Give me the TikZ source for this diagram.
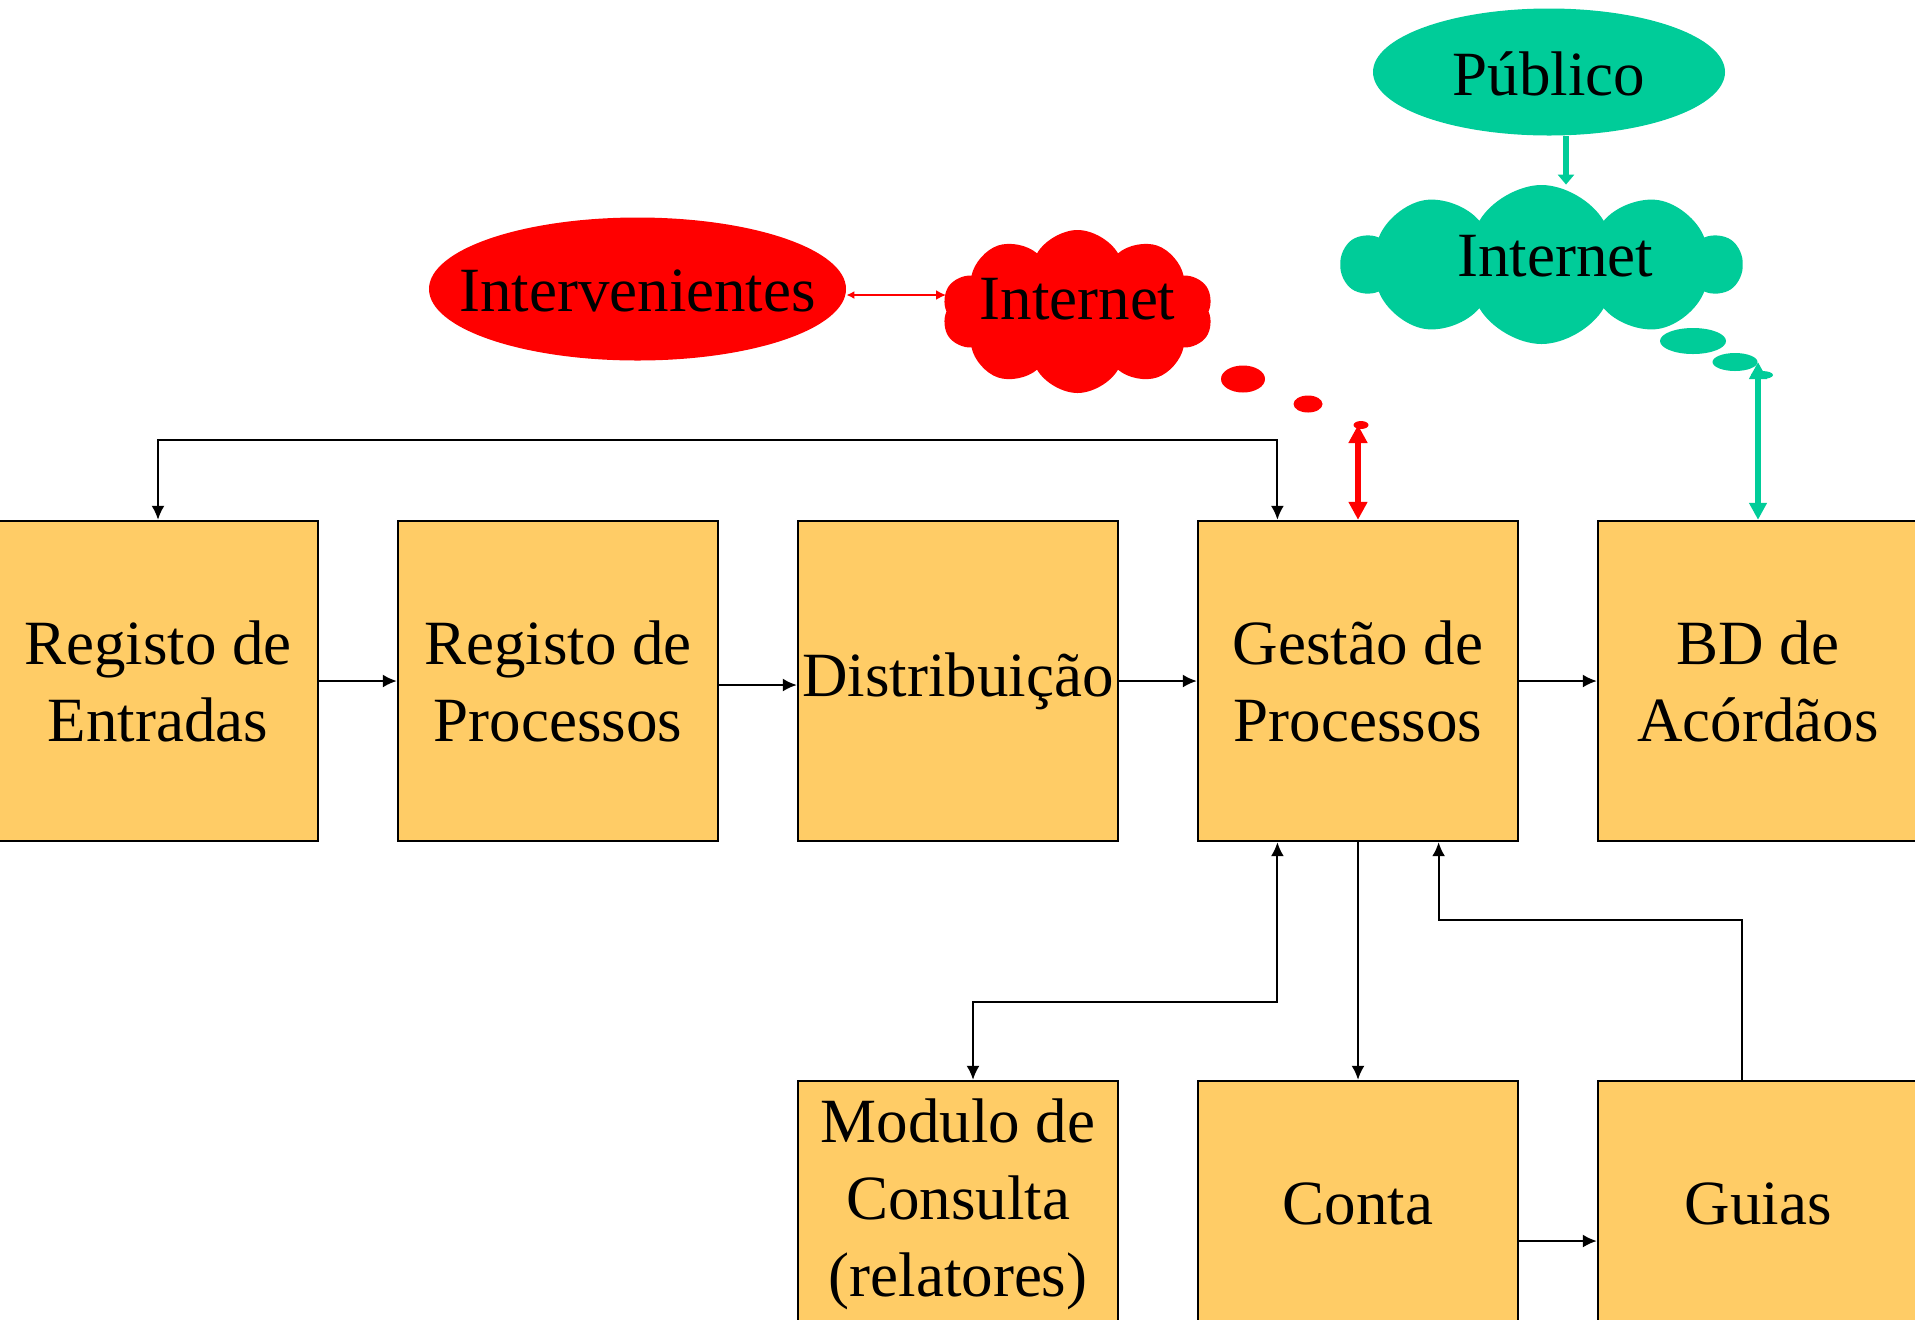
\documentclass[tikz,border=0pt]{standalone}
\usepackage{fontspec}
\setmainfont{Liberation Serif}
\usetikzlibrary{shapes.geometric,shapes.symbols,arrows.meta,calc}
\definecolor{boxfill}{RGB}{255,204,102}
\definecolor{tealc}{RGB}{0,204,153}
\begin{document}
\begin{tikzpicture}[x=0.5pt,y=-0.5pt,
  every node/.style={font=\fontsize{31.5}{38.5}\selectfont},
  procbox/.style={draw=black, line width=1.2pt, fill=boxfill, minimum width=160pt, minimum height=160pt, inner sep=0pt, align=center},
  lowbox/.style={procbox, minimum height=123pt},
  conn/.style={draw=black, line width=1pt, -{Latex[length=7pt,width=6.5pt]}},
  conntwo/.style={draw=black, line width=1pt, {Latex[length=7pt,width=6.5pt]}-{Latex[length=7pt,width=6.5pt]}},
  redarr/.style={draw=red, line width=3pt, {Triangle[length=9pt,width=9pt]}-{Triangle[length=9pt,width=9pt]}},
  tealarr/.style={draw=tealc, line width=3pt, {Triangle[length=8.5pt,width=8.5pt]}-{Triangle[length=8.5pt,width=8.5pt]}},
  dot/.style={ellipse, inner sep=0pt},
  cloudy/.style={cloud, cloud puffs=10, cloud puff arc=120, cloud ignores aspect, inner sep=0pt}
]
\useasboundingbox (0,0) rectangle (1915,1319);

% top row
\node[procbox] (b1) at (158,681) {Registo de\\Entradas};
\node[procbox] (b2) at (558,681) {Registo de\\Processos};
\node[procbox] (b3) at (958,681) {\raisebox{-3pt}{Distribuição}};
\node[procbox] (b4) at (1358,681) {Gestão de\\Processos};
\node[procbox] (b5) at (1758,681) {BD de\\Acórdãos};

% bottom row
\node[lowbox] (mod) at (958,1204) {Modulo de\\Consulta\\(relatores)};
\node[lowbox] (conta) at (1358,1204) {Conta};
\node[lowbox] (guias) at (1758,1204) {Guias};

% red side
\node[ellipse, fill=red, inner sep=0pt, minimum width=208.5pt, minimum height=71.5pt,
      label={[yshift=-1pt]center:Intervenientes}] (interv) at (637.5,289) {};
\node[cloudy, fill=red, minimum width=135.5pt, minimum height=81.5pt,
      label={[yshift=6pt]center:Internet}] (rcloud) at (1077.5,311.5) {};
\node[dot, fill=red, minimum width=22pt, minimum height=13.5pt] (rdot1) at (1243,379) {};
\node[dot, fill=red, minimum width=14.5pt, minimum height=8.5pt] (rdot2) at (1308,404) {};
\node[dot, fill=red, minimum width=7.5pt, minimum height=4pt] (rdot3) at (1361,425) {};

% teal side
\node[ellipse, fill=tealc, inner sep=0pt, minimum width=176pt, minimum height=63.5pt,
      label={[yshift=-1pt]center:Público}] (pub) at (1549,72) {};
\node[cloudy, fill=tealc, minimum width=199.5pt, minimum height=79.5pt,
      label={[xshift=6.75pt,yshift=4.25pt]center:Internet}] (tcloud) at (1541.5,264.5) {};
\node[dot, fill=tealc, minimum width=33pt, minimum height=13pt] (tdot1) at (1693,341) {};
\node[dot, fill=tealc, minimum width=22.5pt, minimum height=9pt] (tdot2) at (1735,362) {};
\node[dot, fill=tealc, minimum width=11pt, minimum height=4pt] (tdot3) at (1762,375) {};

% horizontal flow
\draw[conn] (b1.east) -- (b2.west);
\draw[conn] ([yshift=-2pt]b2.east) -- ([yshift=-2pt]b3.west);
\draw[conn] (b3.east) -- (b4.west);
\draw[conn] (b4.east) -- (b5.west);

% feedback top
\draw[conntwo] (b1.north) -- ++(0,-80) -| ($(b4.north west)!0.25!(b4.north east)$);

% down connectors
\draw[conntwo] ($(b4.south west)!0.25!(b4.south east)$) -- ++(0,160) -| ([xshift=7.5pt]mod.north);
\draw[conn] (b4.south) -- (conta.north);
\draw[conn] ([xshift=-8pt]guias.north) -- ++(0,-160) -| ($(b4.south west)!0.75!(b4.south east)$);
\draw[conn] ([yshift=-18.5pt]conta.east) -- ([yshift=-18.5pt]guias.west);

% internet links
\draw[draw=red, line width=1pt, {Latex[length=4pt,width=4pt]}-{Latex[length=5pt,width=5pt]}] ([yshift=-3pt]interv.east) -- ([yshift=-3pt]interv.east -| rcloud.west);
\draw[redarr] (b4.north) -- (b4.north |- rdot3.center);
\draw[tealarr] (b5.north) -- (b5.north |- tdot2.center);
\draw[draw=tealc, line width=3pt, -{Triangle[length=5pt,width=8pt]}] ([xshift=8.5pt]pub.south) -- ([xshift=8.5pt]pub.south |- tcloud.north);
\end{tikzpicture}
\end{document}
